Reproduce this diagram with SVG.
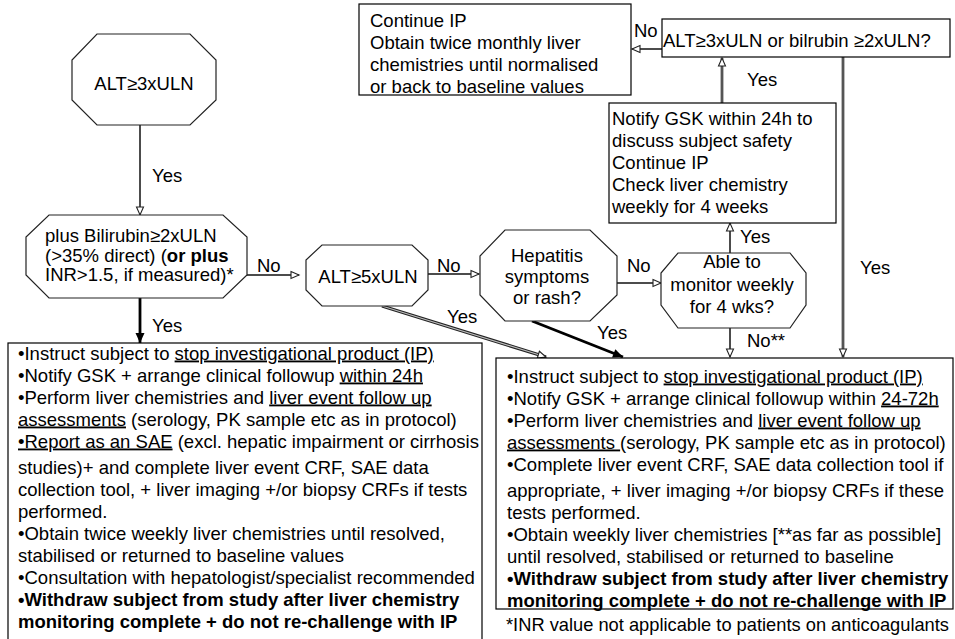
<svg xmlns="http://www.w3.org/2000/svg" width="955" height="639" viewBox="0 0 955 639">
<style>
text{font-family:"Liberation Sans",Arial,sans-serif;font-size:18.5px;fill:#000}
.c{text-anchor:middle}
.b{font-weight:bold}
.u{text-decoration:underline}
.box{fill:#fff;stroke:#000;stroke-width:1.2}
.oct{fill:#fff;stroke:#222;stroke-width:1.2}
.thin{fill:none;stroke:#111;stroke-width:1.5}
.thick{fill:none;stroke:#000;stroke-width:2.8}
.gray{fill:none;stroke:#555;stroke-width:2.8}
.dbl{fill:none;stroke:#222;stroke-width:3.4}
.dblin{fill:none;stroke:#bbb;stroke-width:1.2}
</style>
<defs>
<marker id="open" markerUnits="userSpaceOnUse" markerWidth="12" markerHeight="10" refX="9" refY="4" orient="auto" overflow="visible">
<path d="M1,0.5 L9,4 L1,7.5 Z" fill="#fff" stroke="#222" stroke-width="1.1"/>
</marker>
<marker id="fill" markerUnits="userSpaceOnUse" markerWidth="12" markerHeight="10" refX="10" refY="4.5" orient="auto" overflow="visible">
<path d="M0,0 L10,4.5 L0,9 Z" fill="#000"/>
</marker>
</defs>

<g id="connectors">
<line class="thin" x1="140" y1="125" x2="140" y2="215" marker-end="url(#open)"/>
<line class="thick" x1="140" y1="298" x2="140" y2="343" marker-end="url(#fill)"/>
<line class="thin" x1="247" y1="275" x2="299" y2="275" marker-end="url(#open)"/>
<line class="thin" x1="428" y1="274" x2="479" y2="274" marker-end="url(#open)"/>
<line class="thin" x1="617" y1="283" x2="661" y2="283" marker-end="url(#open)"/>
<line class="thin" x1="730" y1="253" x2="730" y2="223" marker-end="url(#open)"/>
<line class="gray" x1="722" y1="103" x2="722" y2="58" marker-end="url(#open)"/>
<line class="thin" x1="662" y1="49" x2="632" y2="49" marker-end="url(#open)"/>
<line class="gray" x1="843" y1="57" x2="843" y2="357" marker-end="url(#open)"/>
<line class="thin" x1="730" y1="328" x2="730" y2="357" marker-end="url(#open)"/>
<line class="thick" x1="532" y1="321" x2="623" y2="357" marker-end="url(#fill)"/>
<line class="dbl" x1="382" y1="306" x2="546" y2="357" marker-end="url(#open)"/>
<line class="dblin" x1="382" y1="306" x2="538" y2="354.5"/>
<text x="152" y="182">Yes</text>
<text x="152" y="332">Yes</text>
<text x="257" y="272">No</text>
<text x="437" y="272">No</text>
<text x="627" y="272">No</text>
<text x="740" y="243">Yes</text>
<text x="747" y="86">Yes</text>
<text x="634" y="37">No</text>
<text x="860" y="274">Yes</text>
<text x="747" y="347">No**</text>
<text x="597" y="339">Yes</text>
<text x="447" y="323">Yes</text>
</g>

<g id="n-alt3">
<polygon class="oct" points="97,34 190,34 216,60 216,100 190,125 97,125 72,100 72,60"/>
<text class="c" x="144" y="90">ALT≥3xULN</text>
</g>

<g id="n-bili">
<polygon class="oct" points="49,215 223,215 247,237 247,275 223,298 49,298 26,275 26,237"/>
<text x="45" y="242">plus Bilirubin≥2xULN</text>
<text x="45" y="262">(&gt;35% direct) (<tspan class="b">or plus</tspan></text>
<text x="45" y="281">INR&gt;1.5, if measured)*</text>
</g>

<g id="n-alt5">
<polygon class="oct" points="322,245 412,245 428,260 428,290 412,306 322,306 306,290 306,260"/>
<text class="c" x="368" y="283">ALT≥5xULN</text>
</g>

<g id="n-hep">
<polygon class="oct" points="505,230 590,230 617,256 617,295 590,321 505,321 480,295 480,256"/>
<text class="c" x="547" y="262">Hepatitis</text>
<text class="c" x="547" y="283">symptoms</text>
<text class="c" x="547" y="304">or rash?</text>
</g>

<g id="n-able">
<polygon class="oct" points="678,253 790,253 806,273 806,305 790,328 678,328 661,305 661,273"/>
<text class="c" x="732" y="268">Able to</text>
<text class="c" x="732" y="291">monitor weekly</text>
<text class="c" x="732" y="313">for 4 wks?</text>
</g>

<g id="n-notify">
<rect class="box" x="609" y="103" width="227" height="120"/>
<text x="612" y="125">Notify GSK within 24h to</text>
<text x="612" y="147">discuss subject safety</text>
<text x="612" y="169">Continue IP</text>
<text x="612" y="191">Check liver chemistry</text>
<text x="612" y="213">weekly for 4 weeks</text>
</g>

<g id="n-check">
<rect class="box" x="662" y="19" width="288" height="38"/>
<text x="663" y="47">ALT≥3xULN or bilrubin ≥2xULN?</text>
</g>

<g id="n-continue">
<rect class="box" x="359" y="4" width="272" height="91"/>
<text x="370" y="26.5">Continue IP</text>
<text x="370" y="48.5">Obtain twice monthly liver</text>
<text x="370" y="70.5">chemistries until normalised</text>
<text x="370" y="93">or back to baseline values</text>
</g>

<g id="n-stop24">
<rect class="box" x="8" y="343" width="474" height="305"/>
<text x="18" y="359.5">•Instruct subject to <tspan class="u">stop investigational product (IP)</tspan></text>
<text x="18" y="381.5">•Notify GSK + arrange clinical followup <tspan class="u">within 24h</tspan></text>
<text x="18" y="403.5">•Perform liver chemistries and <tspan class="u">liver event follow up</tspan></text>
<text x="18" y="425.5"><tspan class="u">assessments</tspan> (serology, PK sample etc as in protocol)</text>
<text x="18" y="447.5"><tspan class="u">•Report as an SAE</tspan> (excl. hepatic impairment or cirrhosis</text>
<text x="18" y="473.5">studies)+ and complete liver event CRF, SAE data</text>
<text x="18" y="495.5">collection tool, + liver imaging +/or biopsy CRFs if tests</text>
<text x="18" y="517.5">performed.</text>
<text x="18" y="539.5">•Obtain twice weekly liver chemistries until resolved,</text>
<text x="18" y="561.5">stabilised or returned to baseline values</text>
<text x="18" y="583.5">•Consultation with hepatologist/specialist recommended</text>
<text class="b" x="18" y="605.5">•Withdraw subject from study after liver chemistry</text>
<text class="b" x="18" y="627.5">monitoring complete + do not re-challenge with IP</text>
</g>

<g id="n-stop72">
<rect class="box" x="496" y="358" width="457" height="251"/>
<text x="507" y="382.5">•Instruct subject to <tspan class="u">stop investigational product (IP)</tspan></text>
<text x="507" y="404.5">•Notify GSK + arrange clinical followup within <tspan class="u">24-72h</tspan></text>
<text x="507" y="426.5">•Perform liver chemistries and <tspan class="u">liver event follow up</tspan></text>
<text x="507" y="448.5"><tspan class="u">assessments </tspan>(serology, PK sample etc as in protocol)</text>
<text x="507" y="470.5">•Complete liver event CRF, SAE data collection tool if</text>
<text x="507" y="496.5">appropriate,  + liver imaging +/or biopsy CRFs if these</text>
<text x="507" y="518.5">tests performed.</text>
<text x="507" y="540.5">•Obtain weekly liver chemistries [**as far as possible]</text>
<text x="507" y="562.5">until resolved, stabilised or returned to baseline</text>
<text class="b" x="507" y="584.5">•Withdraw subject from study after liver chemistry</text>
<text class="b" x="507" y="606.5">monitoring complete + do not re-challenge with IP</text>
</g>

<g id="footnote">
<text x="506" y="631" textLength="443" lengthAdjust="spacingAndGlyphs">*INR value not applicable to patients on anticoagulants</text>
</g>
</svg>
